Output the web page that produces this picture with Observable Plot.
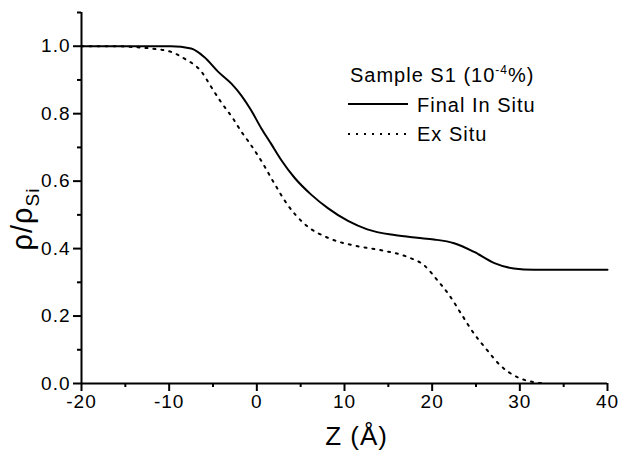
<!DOCTYPE html>
<html>
<head>
<meta charset="utf-8">
<script src="https://cdn.jsdelivr.net/npm/d3@7"></script>
<script src="https://cdn.jsdelivr.net/npm/@observablehq/plot@0.6"></script>
<style>
  html, body { margin: 0; padding: 0; background: #fff; }
  #chart { position: relative; width: 621px; height: 450px; }
  #chart svg text { letter-spacing: 1px; }
</style>
</head>
<body>
<div id="chart"></div>
<script>
// Final In Situ (solid)
const zInSitu = [-20, -12, -9.8, -7.5, -6.0, -4.4, -2.9, -1.8, -0.65, 0.5, 1.6, 2.8, 4.3, 6.2, 8.1, 10.4, 12.6, 15.7, 18.3, 20.2, 22.5, 24.8, 27.1, 29.3, 31.6, 35, 40];
const rhoInSitu = [1, 1, 1.0, 0.993, 0.968, 0.924, 0.889, 0.855, 0.810, 0.757, 0.712, 0.662, 0.610, 0.560, 0.520, 0.482, 0.457, 0.440, 0.432, 0.427, 0.416, 0.390, 0.357, 0.341, 0.337, 0.337, 0.337];
// Ex Situ (dotted)
const zExSitu = [-20, -16, -14.3, -12, -9.75, -8.25, -6.3, -5.2, -4.1, -2.7, -1.8, -0.8, 0.7, 2.0, 3.5, 5.4, 8.1, 11.1, 14.2, 17.2, 19.1, 20.6, 22.0, 23.3, 24.8, 26.3, 27.8, 29.7, 31.6, 33];
const rhoExSitu = [1, 1, 0.998, 0.993, 0.983, 0.963, 0.924, 0.879, 0.835, 0.785, 0.748, 0.712, 0.652, 0.593, 0.530, 0.474, 0.432, 0.409, 0.395, 0.375, 0.350, 0.306, 0.260, 0.207, 0.147, 0.098, 0.053, 0.019, 0.004, 0];

const xMajor = [-20, -10, 0, 10, 20, 30, 40];
const xMinor = [-15, -5, 5, 15, 25, 35];
const yMajor = [0, 0.2, 0.4, 0.6, 0.8, 1.0];
const yMinor = [0.1, 0.3, 0.5, 0.7, 0.9, 1.1];

const legendTitle = "Sample S1 (10";
const legendSup = "-4";
const legendTitleEnd = "%)";
const seriesNames = ["Final In Situ", "Ex Situ"];
const xLabel = "Z (Å)";

const inSitu = zInSitu.map((z, i) => ({z, rho: rhoInSitu[i]}));
const exSitu = zExSitu.map((z, i) => ({z, rho: rhoExSitu[i]}));

const W = 621, H = 450;
const chart = Plot.plot({
  width: W,
  height: H,
  marginLeft: 81,
  marginRight: 14,
  marginTop: 12,
  marginBottom: 67,
  style: {fontFamily: "'Liberation Sans', Arial, sans-serif", color: "#000", background: "#fff"},
  x: {domain: [-20, 40]},
  y: {domain: [0, 1.1]},
  marks: [
    Plot.axisY({ticks: yMajor, tickSize: 8, tickPadding: 3, tickFormat: d3.format(".1f"), fontSize: 19, strokeWidth: 2, label: null}),
    Plot.axisY({ticks: yMinor, tickSize: 4, tickFormat: () => "", strokeWidth: 2, label: null}),
    Plot.axisX({ticks: xMajor, tickSize: 8, tickPadding: 3, tickFormat: d => String(d), fontSize: 19, strokeWidth: 2, label: null}),
    Plot.axisX({ticks: xMinor, tickSize: 4, tickFormat: () => "", strokeWidth: 2, label: null}),
    Plot.line(exSitu, {x: "z", y: "rho", stroke: "#000", strokeWidth: 2, strokeDasharray: "2,6", curve: "monotone-x"}),
    Plot.line(inSitu, {x: "z", y: "rho", stroke: "#000", strokeWidth: 2, curve: "monotone-x"}),
    Plot.ruleX([-20], {stroke: "#000", strokeWidth: 2}),
    Plot.ruleY([0], {stroke: "#000", strokeWidth: 2}),
    Plot.text([xLabel], {frameAnchor: "bottom", dx: 12, dy: 61, lineAnchor: "bottom", textAnchor: "middle", fontSize: 26, fill: "#000"})
  ]
});
document.getElementById("chart").appendChild(chart);

const svg = d3.select(chart);
// Y axis label with subscript
const yl = svg.append("text")
  .attr("transform", "translate(32,219) rotate(-90)")
  .attr("text-anchor", "middle")
  .attr("font-size", 29)
  .attr("fill", "#000");
yl.append("tspan").text("ρ/ρ");
yl.append("tspan").attr("font-size", 19).attr("dy", 7).text("Si");

// Legend
const lg = svg.append("g").attr("fill", "#000").attr("font-size", 20).attr("text-anchor", "start");
const t = lg.append("text").attr("x", 350).attr("y", 82);
t.append("tspan").text(legendTitle);
t.append("tspan").attr("font-size", 12).attr("dy", -8).text(legendSup);
t.append("tspan").attr("dy", 8).text(legendTitleEnd);
lg.append("line").attr("x1", 348).attr("x2", 408).attr("y1", 104).attr("y2", 104)
  .attr("stroke", "#000").attr("stroke-width", 2);
lg.append("text").attr("x", 417).attr("y", 112).text(seriesNames[0]);
lg.append("line").attr("x1", 348).attr("x2", 408).attr("y1", 134).attr("y2", 134)
  .attr("stroke", "#000").attr("stroke-width", 2).attr("stroke-dasharray", "2,6");
lg.append("text").attr("x", 417).attr("y", 141).text(seriesNames[1]);
</script>
</body>
</html>
